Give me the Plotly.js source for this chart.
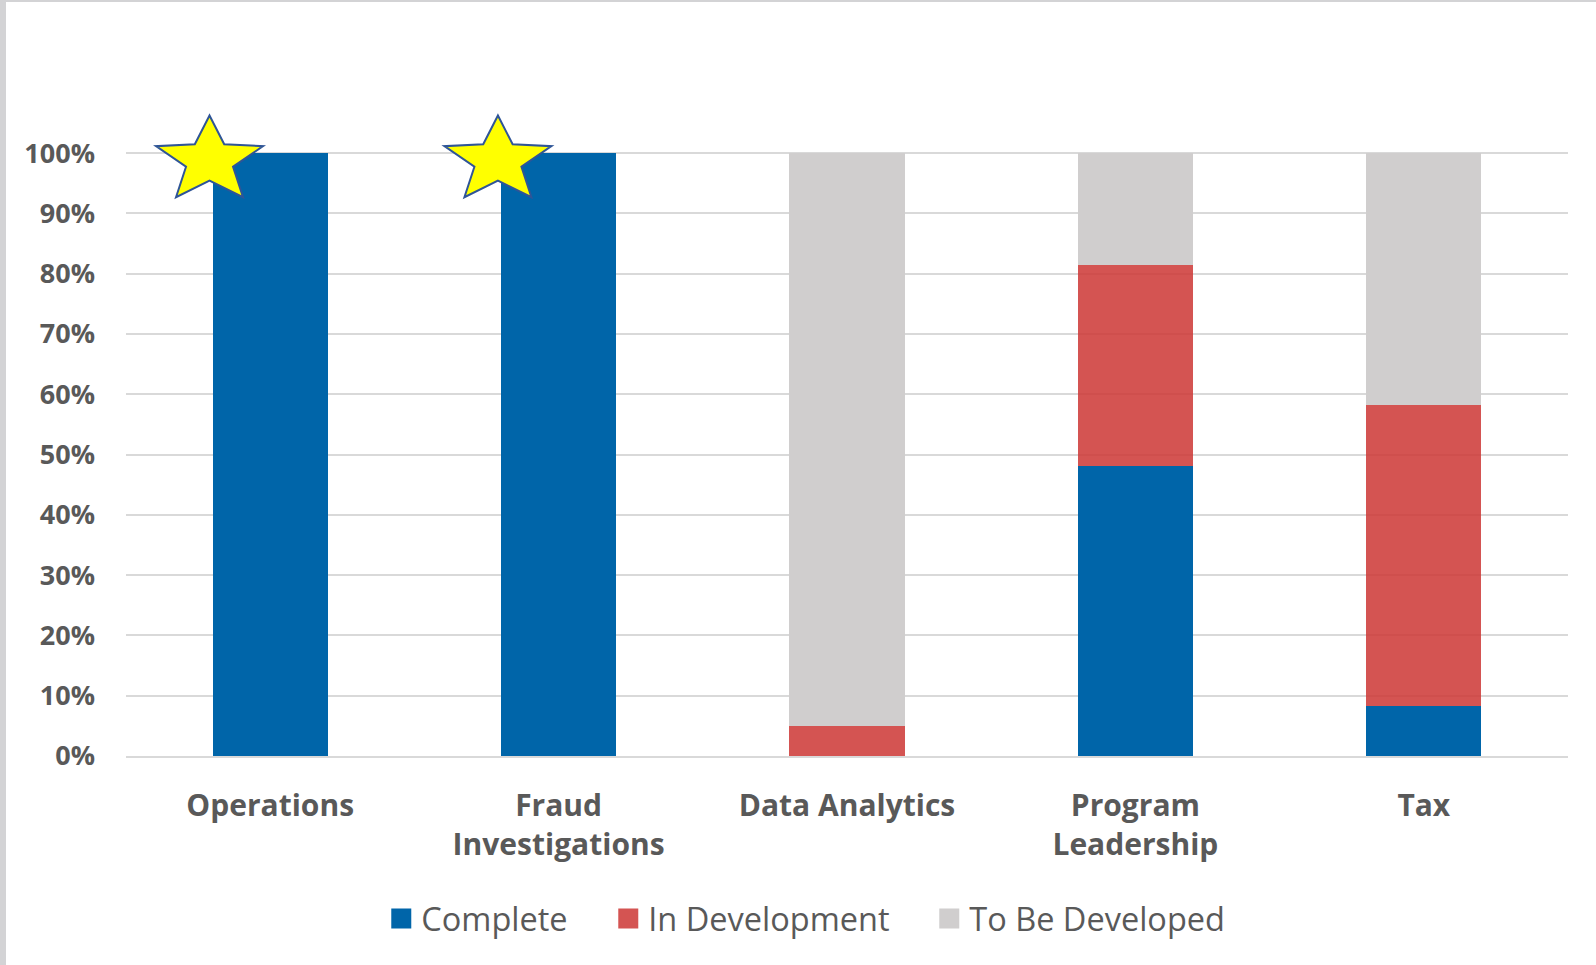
<!DOCTYPE html>
<html>
<head>
<meta charset="utf-8">
<script src="https://cdn.plot.ly/plotly-3.0.1.min.js"></script>
<style>
  html, body { margin: 0; padding: 0; background: #ffffff; }
  #frame { width: 1590px; height: 963px; border-left: 6px solid #d3d3d5; border-top: 2px solid #d3d3d5; }
  #chart { width: 1590px; height: 963px; }
</style>
</head>
<body>
<div id="frame"><div id="chart"></div></div>
<script>
// ---- data ----
const categories = ["Operations", "Fraud Investigations", "Data Analytics", "Program Leadership", "Tax"];
const categoryLabels = ["Operations", "Fraud<br>Investigations", "Data Analytics", "Program<br>Leadership", "Tax"];
const complete = [100, 100, 0, 48.1, 8.3];
const inDevelopment = [0, 0, 5, 33.3, 50];
const toBeDeveloped = [0, 0, 95, 18.6, 41.7];
const seriesNames = ["Complete", "In Development", "To Be Developed"];
const yTicks = [0, 10, 20, 30, 40, 50, 60, 70, 80, 90, 100];
const yTickLabels = ["0%", "10%", "20%", "30%", "40%", "50%", "60%", "70%", "80%", "90%", "100%"];

// ---- styles ----
const colors = ["#0065a9", "rgba(204,54,52,0.85)", "#d0cece"];
const legendWidths = [182, 276, 0];
const textColor = "#595959";

const traces = [complete, inDevelopment, toBeDeveloped].map((vals, i) => ({
  type: "bar",
  name: seriesNames[i],
  x: categories,
  y: vals,
  marker: { color: colors[i], line: { width: 0 } },
  legendwidth: legendWidths[i] || undefined,
  hoverinfo: "name+y"
}));

// stars on categories that are fully complete, placed at the bar's left edge on the 100% line
const barWidth = 0.4;
const starPath = [
  [-3, 37.7], [11.7, 9], [50.5, 7], [20.5, -13.5], [30.5, -44],
  [-3, -27.3], [-36.5, -44], [-26.5, -13.5], [-56.5, 7], [-17.7, 9]
].map((p, i) => (i === 0 ? "M" : "L") + p[0] + "," + p[1]).join(" ") + " Z";

const shapes = [];
categories.forEach((c, i) => {
  if (complete[i] >= 100) {
    shapes.push({
      type: "path",
      xref: "x", yref: "y",
      xsizemode: "pixel", ysizemode: "pixel",
      xanchor: i - barWidth / 2, yanchor: 100,
      path: starPath,
      fillcolor: "#ffff00",
      line: { color: "#2f5597", width: 2 },
      layer: "above"
    });
  }
});

const layout = {
  width: 1590,
  height: 963,
  margin: { l: 120, r: 28, t: 108.5, b: 209, pad: 0 },
  paper_bgcolor: "#ffffff",
  plot_bgcolor: "#ffffff",
  barmode: "stack",
  bargap: 0.6,
  showlegend: true,
  legend: {
    orientation: "h",
    xref: "container", yref: "container",
    x: 0.503, xanchor: "center",
    y: 0.048, yanchor: "middle",
    font: { family: "Open Sans, sans-serif", size: 32.5, color: textColor },
    traceorder: "normal"
  },
  xaxis: {
    type: "category",
    tickvals: categories,
    ticktext: categoryLabels,
    tickfont: { family: "Open Sans, sans-serif", size: 30, color: textColor, weight: 700 },
    showgrid: false,
    showline: true,
    linecolor: "#d9d9d9",
    linewidth: 2,
    ticks: "",
    ticklabelstandoff: 22,
    fixedrange: true
  },
  yaxis: {
    range: [0, 107],
    tickvals: yTicks,
    ticktext: yTickLabels,
    tickfont: { family: "Open Sans, sans-serif", size: 27, color: textColor, weight: 700 },
    showgrid: true,
    gridcolor: "#d9d9d9",
    gridwidth: 2,
    zeroline: false,
    showline: false,
    ticks: "",
    ticklabelstandoff: 30,
    fixedrange: true
  },
  shapes: shapes
};

Plotly.newPlot("chart", traces, layout, { displayModeBar: false, staticPlot: true }).then(() => {
  // enlarge legend swatches to match the reference's larger squares
  document.querySelectorAll("#chart .legend .legendpoints path").forEach(p => {
    p.setAttribute("d", "M10,10H-10V-10H10Z");
  });
});
</script>
</body>
</html>
